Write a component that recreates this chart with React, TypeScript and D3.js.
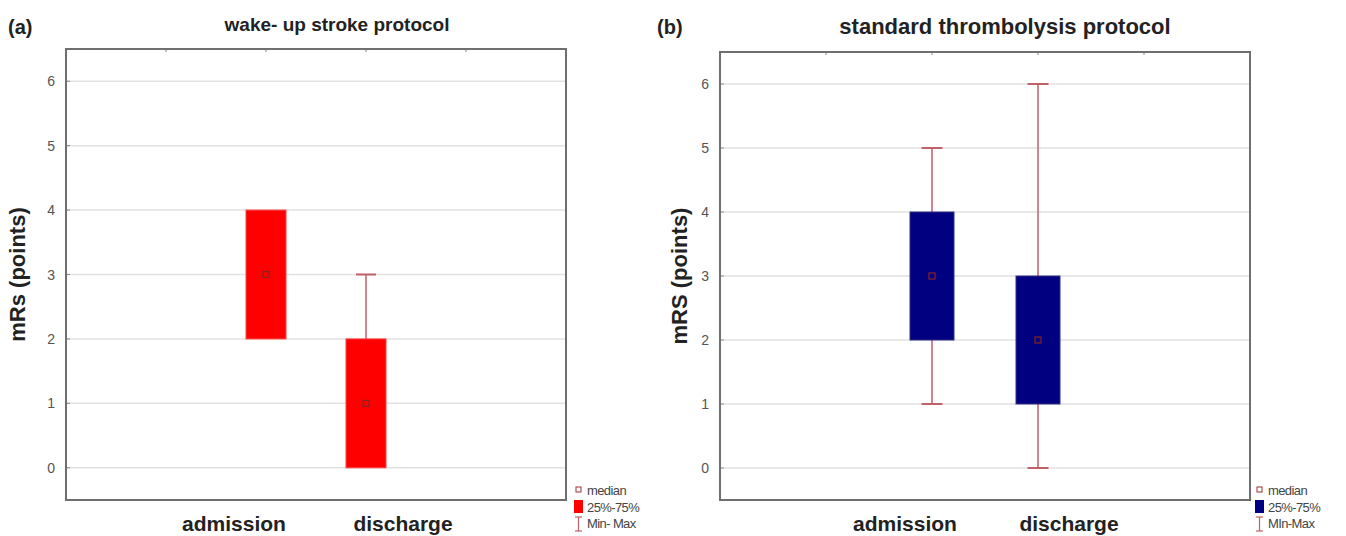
import React, { useEffect, useRef } from 'react';
import * as d3 from 'd3';

const categories = ['admission', 'discharge'];
// [min, q1, median, q3, max]
const wakeUpStats = [
  [2, 2, 3, 4, 4],
  [0, 0, 1, 2, 3],
];
const standardStats = [
  [1, 2, 3, 4, 5],
  [0, 1, 2, 3, 6],
];
const yTicks = [0, 1, 2, 3, 4, 5, 6];
const legendLabelsA = ['median', '25%-75%', 'Min- Max'];
const legendLabelsB = ['median', '25%-75%', 'MIn-Max'];

const W = 1346;
const H = 536;
const FONT = '"Liberation Sans", Arial, sans-serif';

type Panel = {
  tag: string;
  title: string;
  titleSize: number;
  titleX: number;
  titleY: number;
  yLabel: string;
  yLabelX: number;
  left: number;
  right: number;
  top: number;
  bottom: number;
  stats: number[][];
  fill: string;
  boxW: number;
  capW: number;
  tagX: number;
  catLabelX: number[];
  legendX: number;
  legendLabels: string[];
};

const panels: Panel[] = [
  {
    tag: '(a)', title: 'wake- up stroke protocol', titleSize: 19, titleX: 337, titleY: 31,
    yLabel: 'mRs (points)', yLabelX: 25, left: 66, right: 566, top: 49, bottom: 500,
    stats: wakeUpStats, fill: '#ff0000', boxW: 40, capW: 20, tagX: 8,
    catLabelX: [234, 403], legendX: 574, legendLabels: legendLabelsA,
  },
  {
    tag: '(b)', title: 'standard thrombolysis protocol', titleSize: 22, titleX: 1005, titleY: 34,
    yLabel: 'mRS (points)', yLabelX: 687, left: 720, right: 1250, top: 52, bottom: 500,
    stats: standardStats, fill: '#000080', boxW: 44, capW: 21, tagX: 657,
    catLabelX: [905, 1069], legendX: 1255, legendLabels: legendLabelsB,
  },
];

const App = () => {
  const ref = useRef<SVGSVGElement>(null);

  useEffect(() => {
    const svg = d3.select(ref.current);
    svg.selectAll('*').remove();
    svg.append('rect').attr('width', W).attr('height', H).attr('fill', '#fff');

    panels.forEach((p) => {
      const g = svg.append('g');
      const x = d3.scaleLinear().domain([-1, 4]).range([p.left, p.right]);
      const y = d3.scaleLinear().domain([-0.5, 6.5]).range([p.bottom, p.top]);

      // grid
      g.selectAll('.grid')
        .data(yTicks)
        .join('line')
        .attr('x1', p.left)
        .attr('x2', p.right)
        .attr('y1', (d) => y(d))
        .attr('y2', (d) => y(d))
        .attr('stroke', '#e2e2e2')
        .attr('stroke-width', 1.5);

      // tick marks left
      g.selectAll('.ytick')
        .data(yTicks)
        .join('line')
        .attr('x1', p.left)
        .attr('x2', p.left + 4)
        .attr('y1', (d) => y(d))
        .attr('y2', (d) => y(d))
        .attr('stroke', '#888');

      // tick marks top
      g.selectAll('.xtick')
        .data([0, 1, 2, 3])
        .join('line')
        .attr('x1', (d) => x(d))
        .attr('x2', (d) => x(d))
        .attr('y1', p.top)
        .attr('y2', p.top + 3)
        .attr('stroke', '#888');

      g.selectAll('.ylab')
        .data(yTicks)
        .join('text')
        .attr('x', p.left - 11)
        .attr('y', (d) => y(d) + 5)
        .attr('text-anchor', 'end')
        .attr('font-family', FONT)
        .attr('font-size', 14)
        .attr('fill', '#555')
        .text((d) => d);

      // boxes
      p.stats.forEach((s, i) => {
        const cx = x(i + 1);
        const [mn, q1, med, q3, mx] = s;
        if (mx > q3) {
          g.append('line').attr('x1', cx).attr('x2', cx).attr('y1', y(q3)).attr('y2', y(mx))
            .attr('stroke', '#c06068').attr('stroke-width', 1.5);
          g.append('line').attr('x1', cx - p.capW / 2).attr('x2', cx + p.capW / 2).attr('y1', y(mx)).attr('y2', y(mx))
            .attr('stroke', '#c06068').attr('stroke-width', 2);
        }
        if (mn < q1) {
          g.append('line').attr('x1', cx).attr('x2', cx).attr('y1', y(q1)).attr('y2', y(mn))
            .attr('stroke', '#c06068').attr('stroke-width', 1.5);
          g.append('line').attr('x1', cx - p.capW / 2).attr('x2', cx + p.capW / 2).attr('y1', y(mn)).attr('y2', y(mn))
            .attr('stroke', '#c06068').attr('stroke-width', 2);
        }
        g.append('rect')
          .attr('x', cx - p.boxW / 2)
          .attr('y', y(q3))
          .attr('width', p.boxW)
          .attr('height', y(q1) - y(q3))
          .attr('fill', p.fill)
          .attr('stroke', p.fill === '#ff0000' ? '#ff4040' : '#303080')
          .attr('stroke-width', 1);
        g.append('rect')
          .attr('x', cx - 3)
          .attr('y', y(med) - 3)
          .attr('width', 6)
          .attr('height', 6)
          .attr('fill', 'none')
          .attr('stroke', '#8b2020')
          .attr('stroke-width', 1.2);
      });

      // frame
      g.append('rect')
        .attr('x', p.left)
        .attr('y', p.top)
        .attr('width', p.right - p.left)
        .attr('height', p.bottom - p.top)
        .attr('fill', 'none')
        .attr('stroke', '#6f6f6f')
        .attr('stroke-width', 2);

      // category labels
      g.selectAll('.cat')
        .data(categories)
        .join('text')
        .attr('x', (_, i) => p.catLabelX[i])
        .attr('y', 531)
        .attr('text-anchor', 'middle')
        .attr('font-family', FONT)
        .attr('font-weight', 'bold')
        .attr('font-size', 21)
        .attr('fill', '#222')
        .text((d) => d);

      // titles
      g.append('text')
        .attr('x', p.titleX)
        .attr('y', p.titleY)
        .attr('text-anchor', 'middle')
        .attr('font-family', FONT)
        .attr('font-weight', 'bold')
        .attr('font-size', p.titleSize)
        .attr('fill', '#222')
        .text(p.title);
      g.append('text')
        .attr('x', p.tagX)
        .attr('y', 34)
        .attr('font-family', FONT)
        .attr('font-weight', 'bold')
        .attr('font-size', 20)
        .attr('fill', '#222')
        .text(p.tag);

      g.append('text')
        .attr('transform', `translate(${p.yLabelX},${(p.top + p.bottom) / 2}) rotate(-90)`)
        .attr('text-anchor', 'middle')
        .attr('font-family', FONT)
        .attr('font-weight', 'bold')
        .attr('font-size', 22)
        .attr('fill', '#222')
        .text(p.yLabel);

      // legend
      const lx = p.legendX;
      g.append('rect').attr('x', lx + 2).attr('y', 487).attr('width', 5).attr('height', 5)
        .attr('fill', 'none').attr('stroke', '#a03030').attr('stroke-width', 1);
      g.append('rect').attr('x', lx).attr('y', 500).attr('width', 9).attr('height', 13)
        .attr('fill', p.fill);
      g.append('line').attr('x1', lx + 4.5).attr('x2', lx + 4.5).attr('y1', 517).attr('y2', 531)
        .attr('stroke', '#c06068').attr('stroke-width', 1.2);
      g.append('line').attr('x1', lx + 1).attr('x2', lx + 8).attr('y1', 517).attr('y2', 517)
        .attr('stroke', '#c06068').attr('stroke-width', 1.2);
      g.append('line').attr('x1', lx + 1).attr('x2', lx + 8).attr('y1', 531).attr('y2', 531)
        .attr('stroke', '#c06068').attr('stroke-width', 1.2);
      g.selectAll('.leg')
        .data(p.legendLabels)
        .join('text')
        .attr('x', lx + 13)
        .attr('y', (_, i) => 495 + i * 16.5)
        .attr('font-family', FONT)
        .attr('font-size', 13)
        .attr('letter-spacing', -0.6)
        .attr('fill', '#444')
        .text((d) => d);
    });
  }, []);

  return (
    <svg
      ref={ref}
      width={W}
      height={H}
      style={{ position: 'absolute', left: 0, top: 0, display: 'block' }}
    />
  );
};

export default App;
